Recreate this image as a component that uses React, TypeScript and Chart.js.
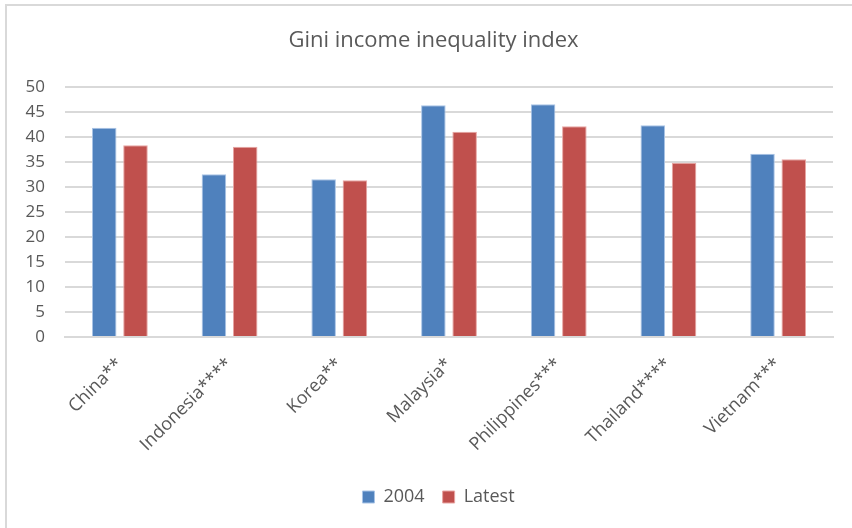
import React, { useEffect, useRef } from "react";
import { Chart, registerables } from "chart.js";

Chart.register(...registerables);

const categories = ["China**", "Indonesia****", "Korea**", "Malaysia*", "Philippines***", "Thailand****", "Vietnam***"];
const values2004 = [41.9, 32.6, 31.6, 46.4, 46.6, 42.4, 36.7];
const valuesLatest = [38.4, 38.1, 31.4, 41.1, 42.2, 34.9, 35.6];
const seriesNames = ["2004", "Latest"];
const titleText = "Gini income inequality index";

const FONT = "'Open Sans', 'Noto Sans', sans-serif";
const TEXT = "#595959";
const GRID = "#d9d9d9";

const frame = {
  id: "frame",
  beforeDraw(chart: any) {
    const { ctx, width, height } = chart;
    ctx.save();
    ctx.fillStyle = "#ffffff";
    ctx.fillRect(0, 0, width, height);
    ctx.strokeStyle = GRID;
    ctx.lineWidth = 2;
    ctx.beginPath();
    ctx.moveTo(6, height);
    ctx.lineTo(6, 5);
    ctx.lineTo(width, 5);
    ctx.stroke();
    ctx.restore();
  },
};

const nudge = {
  id: "nudge",
  afterLayout(chart: any) {
    if (chart.titleBlock) {
      chart.titleBlock.left += 7;
      chart.titleBlock.right += 7;
    }
    if (chart.legend) {
      chart.legend.left += 12;
      chart.legend.right += 12;
    }
  },
};

export default function App() {
  const ref = useRef<HTMLCanvasElement>(null);
  useEffect(() => {
    const chart = new Chart(ref.current!, {
      type: "bar",
      data: {
        labels: categories,
        datasets: [
          {
            label: seriesNames[0],
            data: values2004,
            backgroundColor: "#4f81bd",
            borderColor: "#a9c4e6",
            borderWidth: 1,
            categoryPercentage: 0.57,
            barPercentage: 0.785,
          },
          {
            label: seriesNames[1],
            data: valuesLatest,
            backgroundColor: "#c0504d",
            borderColor: "#e8a5a3",
            borderWidth: 1,
            categoryPercentage: 0.57,
            barPercentage: 0.785,
          },
        ],
      },
      options: {
        responsive: false,
        animation: false,
        devicePixelRatio: 1,
        layout: { padding: { left: 20, right: 19, top: 0, bottom: 12 } },
        plugins: {
          title: {
            display: true,
            text: titleText,
            color: TEXT,
            font: { family: FONT, size: 22, weight: "normal" },
            padding: { top: 28, bottom: 33 },
          },
          legend: {
            position: "bottom",
            labels: {
              color: TEXT,
              font: { family: FONT, size: 18 },
              boxWidth: 12,
              boxHeight: 12,
              padding: 18,
            },
          },
          tooltip: { enabled: false },
        },
        scales: {
          x: {
            grid: { display: false },
            border: { color: GRID, width: 2 },
            ticks: {
              color: TEXT,
              font: { family: FONT, size: 18 },
              minRotation: 45,
              maxRotation: 45,
              padding: 9,
            },
            afterFit: (s: any) => {
              s.height = 133;
              s.paddingLeft = 0;
              s.paddingRight = 0;
            },
          },
          y: {
            min: 0,
            max: 50,
            grid: { color: GRID, lineWidth: 2, drawTicks: false },
            border: { display: false },
            ticks: {
              stepSize: 5,
              color: TEXT,
              font: { family: FONT, size: 17 },
              padding: 20,
            },
            afterFit: (s: any) => {
              s.width = 45;
            },
          },
        },
      },
      plugins: [frame, nudge],
    });
    return () => chart.destroy();
  }, []);
  return (
    <div style={{ position: "fixed", left: 0, top: 0, width: 852, height: 528 }}>
      <canvas ref={ref} width={852} height={528} />
    </div>
  );
}
